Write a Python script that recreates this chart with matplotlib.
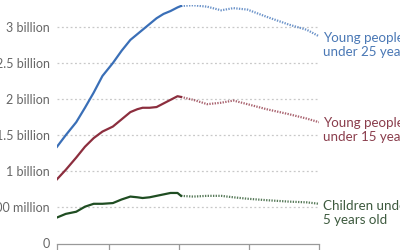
import matplotlib.pyplot as plt

# historical estimates (billions)
years_hist = [1950, 1955, 1961, 1966, 1971, 1976, 1982, 1987, 1992, 1996, 1999, 2003, 2007, 2011, 2015, 2019, 2021]
under25_hist = [1.34, 1.50, 1.68, 1.88, 2.09, 2.32, 2.50, 2.67, 2.82, 2.90, 2.96, 3.04, 3.12, 3.18, 3.22, 3.27, 3.29]
under15_hist = [0.89, 1.02, 1.19, 1.34, 1.46, 1.55, 1.62, 1.72, 1.82, 1.86, 1.88, 1.88, 1.89, 1.94, 1.99, 2.04, 2.03]
under5_hist = [0.36, 0.41, 0.44, 0.51, 0.55, 0.55, 0.56, 0.61, 0.65, 0.64, 0.63, 0.64, 0.66, 0.68, 0.70, 0.70, 0.66]

# projections
years_proj = [2021, 2028, 2036, 2044, 2051, 2059, 2070, 2083, 2093, 2100]
under25_proj = [3.29, 3.30, 3.28, 3.23, 3.26, 3.24, 3.14, 3.03, 2.96, 2.87]
under15_proj = [2.03, 1.99, 1.93, 1.95, 1.98, 1.93, 1.86, 1.79, 1.73, 1.68]
under5_proj = [0.66, 0.65, 0.66, 0.66, 0.64, 0.62, 0.60, 0.58, 0.57, 0.55]

series = [
    (under25_hist, under25_proj, '#3a6fb7', '#4a78b5', 'Young people\nunder 25 years', 2.75),
    (under15_hist, under15_proj, '#8c2e3e', '#8a3d4c', 'Young people\nunder 15 years', 1.57),
    (under5_hist, under5_proj, '#1f4d22', '#3d5a3e', 'Children under\n5 years old', 0.42),
]

yticks = [0, 0.5, 1, 1.5, 2, 2.5, 3]
ytick_labels = ['0', '500 million', '1 billion', '1.5 billion', '2 billion', '2.5 billion', '3 billion']
xticks = [1950, 1980, 2020, 2060, 2100]

plt.rcParams['font.family'] = ['Lato', 'DejaVu Sans']

fig = plt.figure(figsize=(4, 2.5), dpi=100)
ax = fig.add_axes([0.1425, 0.026, 0.655, 0.953])

for hist, proj, color, tcolor, label, ly in series:
    ax.plot(years_hist, hist, color=color, linewidth=1.6, solid_joinstyle='round', zorder=3)
    ax.plot(years_proj, proj, color=color, linewidth=1.6, linestyle=(0, (0.6, 0.6)), alpha=0.75, zorder=3)
    ax.text(2102.3, ly, label, color=tcolor, fontsize=9.6, va='center', ha='left',
            linespacing=1.2, clip_on=False)

ax.set_xlim(1950, 2100)
ax.set_ylim(0, 3.3)

ax.set_yticks(yticks)
ax.set_yticklabels(ytick_labels)
ax.set_xticks(xticks)
ax.set_xticklabels([])

for y in yticks[1:]:
    ax.axhline(y, color='#c8c8c8', linewidth=0.9, linestyle=(0, (1.5, 2)), zorder=1)

for s in ['top', 'right', 'left']:
    ax.spines[s].set_visible(False)
ax.spines['bottom'].set_color('#999999')
ax.spines['bottom'].set_linewidth(0.9)

ax.tick_params(axis='y', length=0, pad=5, labelsize=9, labelcolor='#666666')
ax.tick_params(axis='x', length=4, width=0.9, color='#999999')

fig.savefig('out.png', dpi=100)
